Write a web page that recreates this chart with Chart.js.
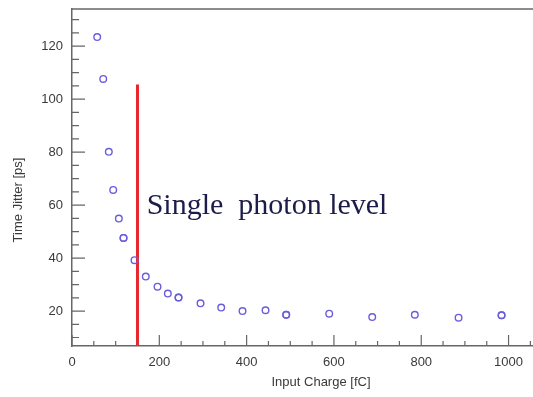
<!DOCTYPE html>
<html>
<head>
<meta charset="utf-8">
<script src="https://cdn.jsdelivr.net/npm/chart.js@4.4.1/dist/chart.umd.min.js"></script>
<style>
  html, body { margin: 0; padding: 0; background: #fff; }
  #wrap { width: 533px; height: 397px; }
</style>
</head>
<body>
<div id="wrap"><canvas id="jitterChart"></canvas></div>
<script>
// Measured jitter vs. input charge (some points repeated -> darker markers)
const chargeFc = [57.7, 71.5, 84.3, 94.4, 107.3, 118, 118, 143.2, 169, 195.9, 219.5, 244, 244,
                  294.4, 341.8, 390.6, 443.3, 490.7, 490.7, 589.2, 687.7, 785.3, 885.5, 984, 984];
const jitterPs = [123.4, 107.6, 80.1, 65.7, 54.9, 47.6, 47.6, 39.2, 33.0, 29.2, 26.6, 25.1, 25.1,
                  22.9, 21.3, 20.0, 20.3, 18.6, 18.6, 19.0, 17.7, 18.6, 17.5, 18.4, 18.4];

// Single photon threshold marker
const thresholdCharge = 150;
const thresholdTop = 105.5;
const annotationText = 'Single  photon level';

// Axis ticks
const xTicks = [0, 50, 100, 150, 200, 250, 300, 350, 400, 450, 500, 550, 600, 650, 700, 750, 800, 850, 900, 950, 1000, 1050];
const xLabels = [0, 200, 400, 600, 800, 1000];
const yTicks = [10, 15, 20, 25, 30, 35, 40, 45, 50, 55, 60, 65, 70, 75, 80, 85, 90, 95, 100, 105, 110, 115, 120, 125, 130];
const yLabels = [20, 40, 60, 80, 100, 120];

const xMin = 0, xMax = 1056, yMin = 6.8, yMax = 134;

const axisColor = '#666';
const textColor = '#3a3a3a';

// inward tick marks, top frame line, axis titles and the annotation
const framePlugin = {
    id: 'frame',
    afterDraw(chart) {
        const ctx = chart.ctx;
        const area = chart.chartArea;
        const xs = chart.scales.x, ys = chart.scales.y;
        ctx.save();
        ctx.strokeStyle = axisColor;
        ctx.lineWidth = 1.5;
        ctx.beginPath();
        ctx.moveTo(area.left, area.top);
        ctx.lineTo(area.right, area.top);
        ctx.stroke();

        ctx.lineWidth = 1.2;
        ctx.beginPath();
        xTicks.forEach(v => {
            const px = xs.getPixelForValue(v);
            const len = xLabels.includes(v) ? 11 : 5;
            ctx.moveTo(px, area.bottom);
            ctx.lineTo(px, area.bottom - len);
        });
        yTicks.forEach(v => {
            const py = ys.getPixelForValue(v);
            const len = yLabels.includes(v) ? 13 : 7;
            ctx.moveTo(area.left, py);
            ctx.lineTo(area.left + len, py);
        });
        ctx.stroke();

        // axis titles
        ctx.fillStyle = textColor;
        ctx.font = '13px "Liberation Sans", Arial, sans-serif';
        ctx.textAlign = 'center';
        ctx.textBaseline = 'middle';
        ctx.fillText('Input Charge [fC]', 321, 382);
        ctx.translate(18, 200);
        ctx.rotate(-Math.PI / 2);
        ctx.fillText('Time Jitter [ps]', 0, 0);
        ctx.restore();

        ctx.save();
        ctx.fillStyle = '#1c1c4a';
        ctx.font = '30px "Liberation Serif", "Times New Roman", serif';
        ctx.textAlign = 'left';
        ctx.textBaseline = 'alphabetic';
        ctx.fillText(annotationText, xs.getPixelForValue(171), ys.getPixelForValue(56.5));
        ctx.restore();
    }
};

const ctx = document.getElementById('jitterChart').getContext('2d');
new Chart(ctx, {
    type: 'scatter',
    data: {
        datasets: [
            {
                label: 'Threshold',
                type: 'line',
                data: [{ x: thresholdCharge, y: thresholdTop }, { x: thresholdCharge, y: yMin }],
                borderColor: '#e8262c',
                borderWidth: 3,
                pointRadius: 0,
                order: 2
            },
            {
                label: 'Time jitter',
                data: chargeFc.map((c, i) => ({ x: c, y: jitterPs[i] })),
                pointStyle: 'circle',
                pointRadius: 3.3,
                pointBorderWidth: 1.4,
                borderColor: '#6a5ddc',
                backgroundColor: 'rgba(0,0,0,0)',
                order: 1
            }
        ]
    },
    options: {
        responsive: true,
        maintainAspectRatio: false,
        animation: false,
        layout: { autoPadding: false, padding: { left: 0, right: 0, top: 9, bottom: 0 } },
        plugins: {
            legend: { display: false },
            tooltip: { enabled: false }
        },
        scales: {
            x: {
                type: 'linear',
                min: xMin,
                max: xMax,
                afterFit(scale) {
                    scale.height = 51;
                    scale.paddingLeft = 0;
                    scale.paddingRight = 0;
                },
                afterBuildTicks(scale) { scale.ticks = xLabels.map(v => ({ value: v })); },
                grid: { display: false, drawTicks: false },
                border: { display: true, color: axisColor, width: 1.5 },
                ticks: {
                    padding: 9,
                    color: textColor,
                    font: { family: '"Liberation Sans", Arial, sans-serif', size: 13 },
                    maxRotation: 0,
                    callback: v => String(v)
                }
            },
            y: {
                type: 'linear',
                min: yMin,
                max: yMax,
                afterFit(scale) {
                    scale.width = 72;
                    scale.paddingTop = 0;
                    scale.paddingBottom = 0;
                },
                afterBuildTicks(scale) { scale.ticks = yLabels.map(v => ({ value: v })); },
                grid: { display: false, drawTicks: false },
                border: { display: true, color: axisColor, width: 1.5 },
                ticks: {
                    padding: 9,
                    color: textColor,
                    font: { family: '"Liberation Sans", Arial, sans-serif', size: 13 },
                    callback: v => String(v)
                }
            }
        }
    },
    plugins: [framePlugin]
});
</script>
</body>
</html>
